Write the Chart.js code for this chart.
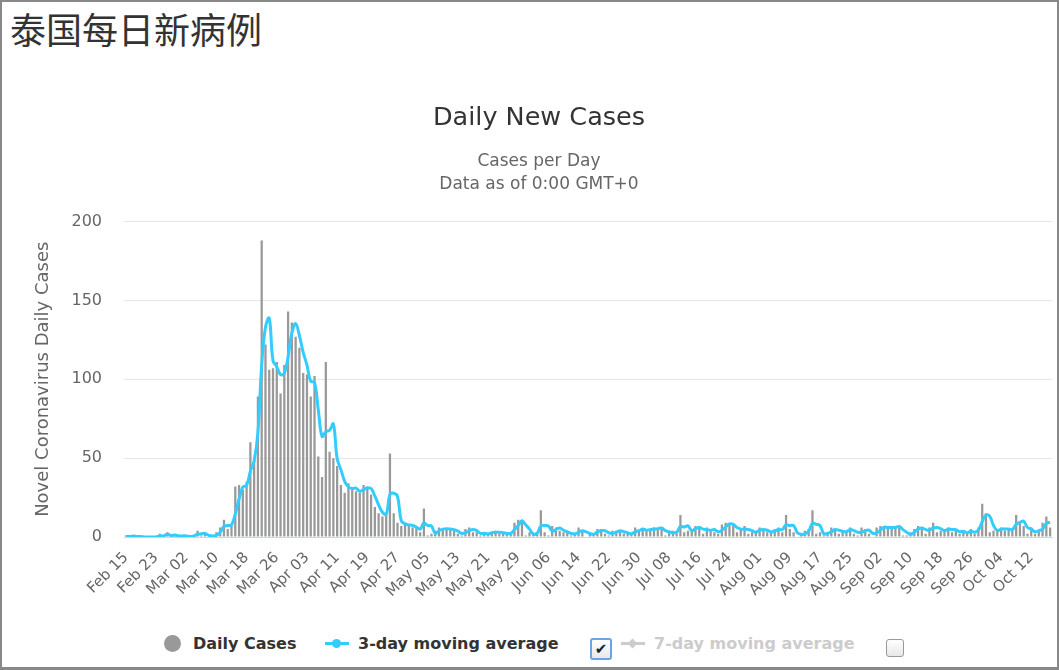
<!DOCTYPE html>
<html>
<head>
<meta charset="utf-8">
<script src="https://cdn.jsdelivr.net/npm/chart.js@4.4.1/dist/chart.umd.min.js"></script>
<style>
  html, body { margin: 0; padding: 0; background: #fff; }
  #frame {
    position: relative; width: 1059px; height: 670px; box-sizing: border-box;
    border: 2px solid #888; border-bottom-width: 3px; overflow: hidden;
    font-family: "DejaVu Sans", sans-serif;
  }
  #pageTitle {
    position: absolute; left: 8px; top: 8px; font-size: 36px; line-height: 36px;
    font-family: "Noto Sans CJK SC", sans-serif; color: #333; font-weight: 400;
  }
  #chartCanvas { position: absolute; left: 16px; top: 87px; }
  .lg { position: absolute; font-size: 16px; font-weight: bold; color: #333; line-height: 20px; white-space: nowrap; }
  .lg.off { color: #ccc; }
  .dot { position: absolute; border-radius: 50%; }
  .mk { position: absolute; height: 3px; }
  .box {
    position: absolute; width: 16px; height: 16px; box-sizing: border-box;
    border: 1px solid #999; border-radius: 3px; background: linear-gradient(#fff, #e8e8e8);
    font-size: 14px; line-height: 14px; text-align: center; color: #222;
  }
  .box.on { border: 2px solid #6fa0e8; }
  .diamond { position: absolute; width: 7px; height: 7px; background: #ccc; transform: rotate(45deg); }
</style>
</head>
<body>
<div id="frame">
  <div id="pageTitle">泰国每日新病例</div>
  <canvas id="chartCanvas" width="1042" height="537"></canvas>

  <!-- legend (drawn as html, like the original page) -->
  <div class="dot" style="left:162px;top:633px;width:17px;height:17px;background:#999;"></div>
  <div class="lg" style="left:191px;top:632px;">Daily Cases</div>
  <div class="mk" style="left:323px;top:640px;width:24px;background:#33ccff;"></div>
  <div class="dot" style="left:330px;top:637px;width:9px;height:9px;background:#33ccff;"></div>
  <div class="lg" style="left:356px;top:632px;">3-day moving average</div>
  <div class="box on" style="left:588px;top:636px;width:22px;height:22px;line-height:18px;font-size:15px;">&#10004;</div>
  <div class="mk" style="left:619px;top:640px;width:24px;background:#ccc;"></div>
  <div class="diamond" style="left:627px;top:638px;"></div>
  <div class="lg off" style="left:652px;top:632px;">7-day moving average</div>
  <div class="box" style="left:884px;top:637px;width:18px;height:18px;"></div>
</div>

<script>
// first day of the series and month names for the x labels
const startDay = { year: 2020, month: 1, day: 15 };
const monthNames = ['Jan', 'Feb', 'Mar', 'Apr', 'May', 'Jun', 'Jul', 'Aug', 'Sep', 'Oct', 'Nov', 'Dec'];

// daily new cases, Feb 15 .. Oct 17
const dailyCases = [
  // Feb 15-29
  1, 0, 1, 0, 0, 0, 0, 0, 0, 2, 0, 3, 0, 1, 1,
  // Mar
  0, 1, 0, 1, 4, 1, 2, 0, 0, 3, 6, 11, 5, 7, 32, 33, 30, 35, 60, 50, 89, 188, 122, 106, 107, 111, 91, 109, 143, 136, 127,
  // Apr
  120, 104, 103, 89, 102, 51, 38, 111, 54, 50, 45, 33, 28, 34, 30, 29, 28, 33, 32, 27, 19, 15, 13, 15, 53, 15, 9, 7, 9, 7,
  // May
  6, 6, 3, 18, 1, 2, 4, 6, 5, 5, 5, 4, 2, 1, 5, 6, 3, 3, 1, 3, 2, 3, 4, 2, 2, 3, 2, 9, 11, 11, 1,
  // Jun
  3, 2, 2, 17, 3, 1, 7, 6, 4, 3, 3, 1, 2, 6, 4, 0, 3, 2, 5, 5, 2, 1, 4, 4, 4, 2, 2, 2, 6, 4,
  // Jul
  5, 4, 5, 6, 5, 6, 1, 3, 4, 2, 14, 3, 4, 5, 7, 6, 2, 6, 5, 3, 2, 8, 9, 8, 7, 3, 5, 7, 2, 3, 4,
  // Aug
  6, 4, 3, 3, 5, 6, 3, 14, 5, 3, 0, 2, 4, 5, 17, 2, 3, 1, 3, 6, 5, 2, 4, 4, 6, 2, 1, 6, 5, 2, 0,
  // Sep
  6, 7, 6, 5, 7, 6, 7, 1, 1, 3, 5, 7, 5, 2, 6, 9, 3, 4, 5, 6, 3, 5, 2, 4, 2, 5, 2, 6, 21, 15,
  // Oct 1-17
  3, 4, 5, 6, 4, 5, 5, 14, 9, 7, 2, 6, 2, 4, 9, 13, 6
];

// 3-day moving average
const movingAvg3 = [
  0.3, 0.3, 0.7, 0.3, 0.3, 0, 0, 0, 0, 0.7, 0.7, 1.7, 1, 1.3, 0.7,
  0.7, 0.7, 0.3, 0.7, 1.7, 2, 2.3, 1, 0.7, 1, 3, 6.7, 7.3, 7.7, 14.7, 24, 31.7, 32.7, 41.7, 48.3, 66.3, 109, 133, 138.7, 111.7, 108, 103, 103.7, 114.3, 129.3, 135.3,
  127.7, 117, 109, 98.7, 98, 80.7, 63.7, 66.7, 67.7, 71.7, 49.7, 42.7, 35.3, 31.7, 30.7, 31, 29, 30, 31, 30.7, 26, 20.3, 15.7, 14.3, 27, 27.7, 25.7, 10.3, 8.3, 7.7,
  7.3, 6.3, 5, 9, 7.3, 7, 2.3, 4, 5, 5.3, 5, 4.7, 3.7, 2.3, 2.7, 4, 4.7, 4, 2.3, 2.3, 2, 2.7, 3, 3, 2.7, 2.3, 2.3, 4.7, 7.3, 10.3, 7.7,
  5, 2, 2.3, 7, 7.3, 7, 3.7, 4.7, 5.7, 4.3, 3.3, 2.3, 2, 3, 4, 3.3, 2.3, 1.7, 3.3, 4, 4, 2.7, 2.3, 3, 4, 3.3, 2.7, 2, 3.3, 4,
  5, 4.3, 4.7, 5, 5.3, 5.7, 4, 3.3, 2.7, 3, 6.7, 6.3, 7, 4, 5.3, 6, 5, 4.7, 4.3, 4.7, 3.3, 4.3, 6.3, 8.3, 8, 6, 5, 5, 4.7, 4, 3,
  4.3, 4.7, 4.3, 3.3, 3.7, 4.7, 4.7, 7.7, 7.3, 7.3, 2.7, 1.7, 2, 3.7, 8.7, 8, 7.3, 2, 2.3, 3.3, 4.7, 4.3, 3.7, 3.3, 4.7, 4, 3, 3, 4, 4.3, 2.3,
  2.7, 4.3, 6.3, 6, 6, 6, 6.7, 4.7, 3, 1.7, 3, 5, 5.7, 4.7, 4.3, 5.7, 6, 5.3, 4, 5, 4.7, 4.7, 3.3, 3.7, 2.7, 3.7, 3, 4.3, 9.7, 14,
  13, 7.3, 4, 5, 5, 5, 4.7, 8, 9.3, 10, 6, 5, 3.3, 4, 5, 8.7, 9.3
];

const yTicks = [0, 50, 100, 150, 200];

// build "Feb 15" style category labels
const dayLabels = [];
for (let i = 0; i < dailyCases.length; i++) {
  const d = new Date(startDay.year, startDay.month, startDay.day + i);
  dayLabels.push(monthNames[d.getMonth()] + ' ' + String(d.getDate()).padStart(2, '0'));
}

const ctx = document.getElementById('chartCanvas').getContext('2d');
const chart = new Chart(ctx, {
  type: 'bar',
  data: {
    labels: dayLabels,
    datasets: [
      {
        type: 'line',
        label: '3-day moving average',
        data: movingAvg3,
        borderColor: '#33ccff',
        borderWidth: 3,
        pointRadius: 0,
        tension: 0.4,
        fill: false,
        order: 0
      },
      {
        label: 'Daily Cases',
        data: dailyCases,
        backgroundColor: '#999999',
        categoryPercentage: 1.0,
        barPercentage: 0.6,
        order: 1
      }
    ]
  },
  options: {
    responsive: false,
    animation: false,
    layout: { padding: { right: 0 } },
    plugins: {
      legend: { display: false },
      tooltip: { enabled: false },
      title: {
        display: true,
        text: 'Daily New Cases',
        color: '#333',
        font: { family: 'DejaVu Sans', size: 25.5, weight: 'normal' },
        padding: { top: 14, bottom: 17 }
      },
      subtitle: {
        display: true,
        text: ['Cases per Day', 'Data as of 0:00 GMT+0'],
        color: '#666',
        font: { family: 'DejaVu Sans', size: 17, lineHeight: 1.35 },
        padding: { top: 0, bottom: 25 }
      }
    },
    scales: {
      x: {
        grid: { display: false },
        border: { display: true, color: '#ccd6eb', width: 1 },
        ticks: {
          autoSkip: false,
          maxRotation: 45,
          minRotation: 45,
          padding: 4,
          color: '#666',
          font: { family: 'DejaVu Sans', size: 15 },
          callback: function (value, index) {
            return index % 8 === 0 ? dayLabels[index] : '';
          }
        },
        afterFit: function (scale) {
          scale.height = 89;
          scale.paddingRight = 8; // the empty last label should not push the plot in
        }
      },
      y: {
        min: 0,
        max: 200,
        afterBuildTicks: function (scale) {
          scale.ticks = yTicks.map(v => ({ value: v }));
        },
        grid: { color: '#e6e6e6', drawTicks: false },
        border: { display: false },
        ticks: {
          padding: 22,
          color: '#666',
          font: { family: 'DejaVu Sans', size: 16 }
        },
        title: {
          display: true,
          text: 'Novel Coronavirus Daily Cases',
          color: '#666',
          font: { family: 'DejaVu Sans', size: 18 },
          padding: { top: 15, bottom: 0 }
        },
        afterFit: function (scale) { scale.width = 106; }
      }
    }
  }
});
</script>
</body>
</html>
